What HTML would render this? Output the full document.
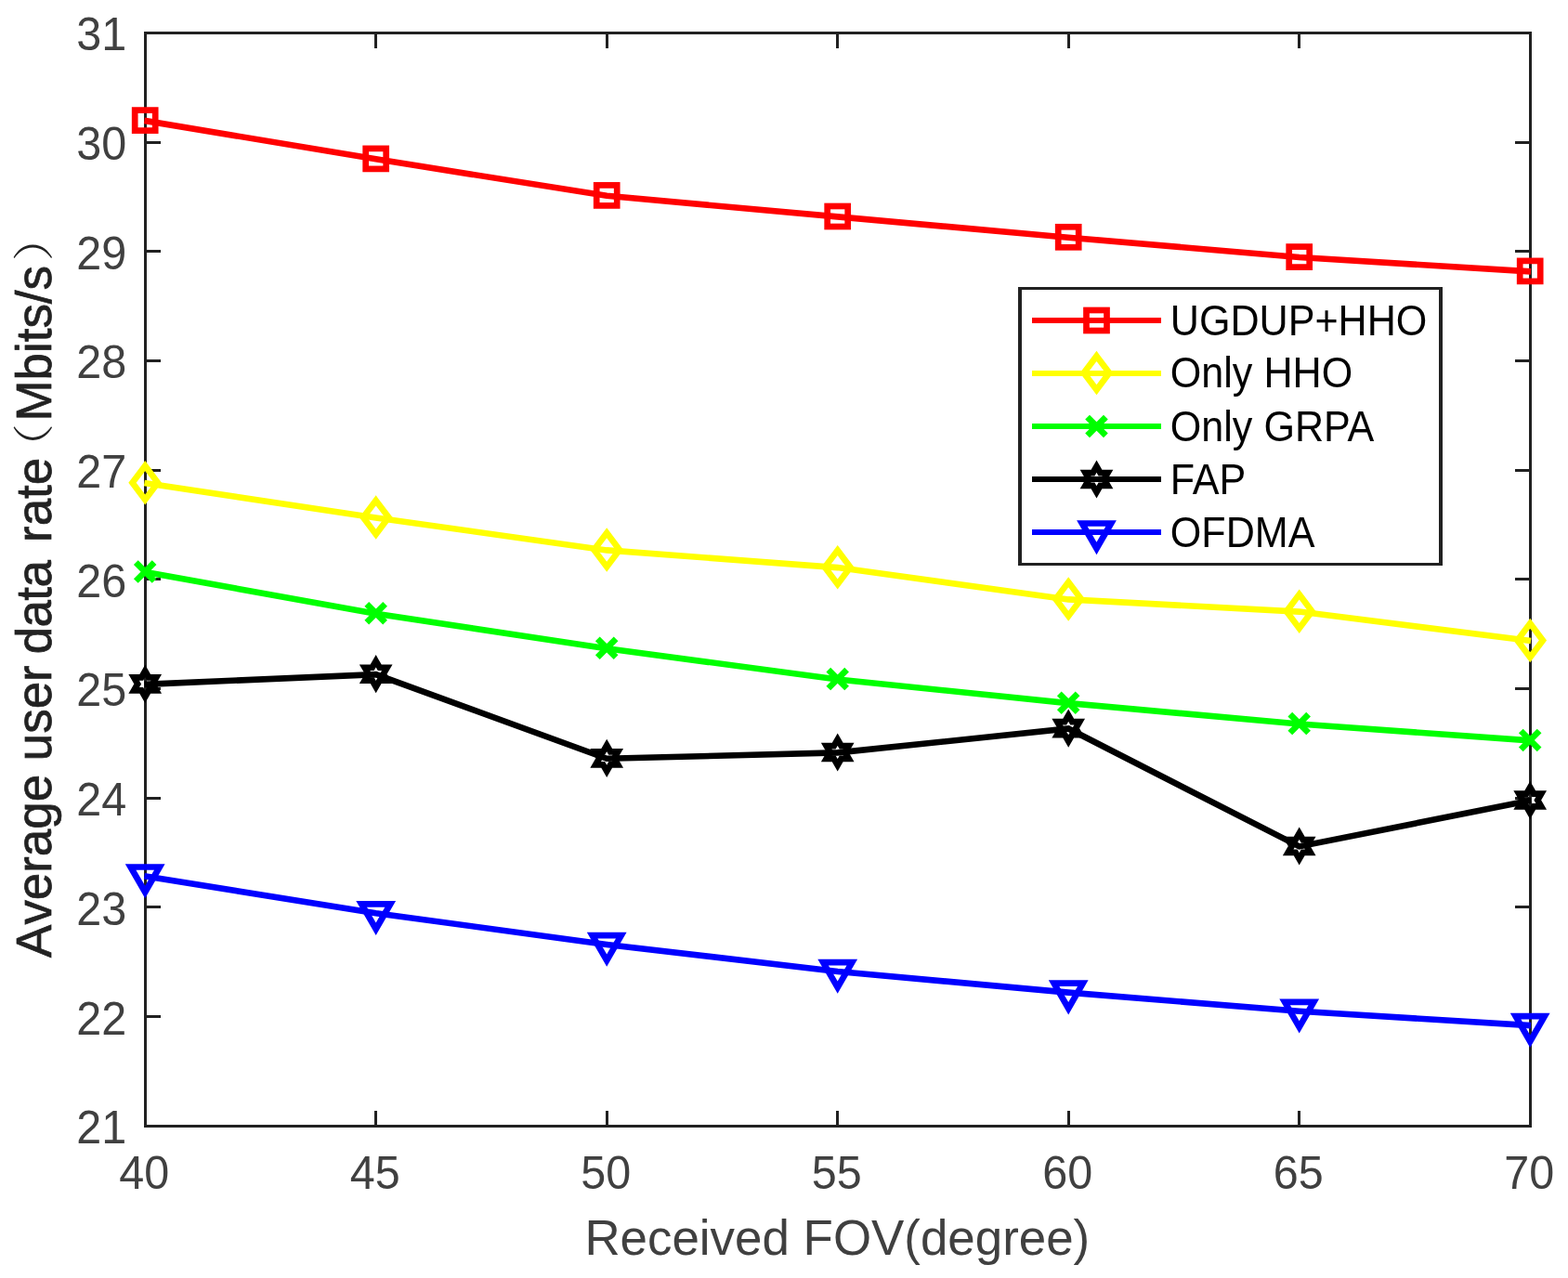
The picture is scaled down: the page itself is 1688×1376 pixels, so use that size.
<!DOCTYPE html>
<html lang="en"><head><meta charset="utf-8"><title>Average user data rate versus received FOV</title>
<style>
html,body{margin:0;padding:0;background:#fff;}
body{width:1688px;height:1376px;overflow:hidden;}
svg{display:block;}
text{font-family:"Liberation Sans","Noto Sans CJK SC",sans-serif;font-kerning:none;}
.tk{font-size:48.5px;fill:#404040;}
.lb{font-size:52.9px;fill:#404040;}
.yl{fill:#222;stroke:#222;stroke-width:0.7px;}
.pr{font-family:"Liberation Sans","Noto Serif CJK SC",serif;font-size:44.3px;font-weight:300;fill:#222;}
.lg{font-size:43.1px;fill:#000;font-kerning:normal;}
</style></head><body>
<svg width="1688" height="1376" viewBox="0 0 1688 1376">
<rect width="1688" height="1376" fill="#ffffff"/>
<g fill="none" stroke="#212121" stroke-width="3" shape-rendering="crispEdges"><rect x="156.5" y="35.5" width="1491" height="1177"/><path d="M404.5 1212.5v-16.5M404.5 35.5v16.5M653.5 1212.5v-16.5M653.5 35.5v16.5M901.5 1212.5v-16.5M901.5 35.5v16.5M1150.5 1212.5v-16.5M1150.5 35.5v16.5M1398.5 1212.5v-16.5M1398.5 35.5v16.5M156.5 1094.5h16.5M1647.5 1094.5h-16.5M156.5 976.5h16.5M1647.5 976.5h-16.5M156.5 859.5h16.5M1647.5 859.5h-16.5M156.5 741.5h16.5M1647.5 741.5h-16.5M156.5 623.5h16.5M1647.5 623.5h-16.5M156.5 506.5h16.5M1647.5 506.5h-16.5M156.5 388.5h16.5M1647.5 388.5h-16.5M156.5 270.5h16.5M1647.5 270.5h-16.5M156.5 153.5h16.5M1647.5 153.5h-16.5"/></g>
<g class="tk" text-anchor="end">
<text transform="translate(136.2,1231.2) scale(1,1.02)">21</text>
<text transform="translate(136.2,1113.52) scale(1,1.02)">22</text>
<text transform="translate(136.2,995.84) scale(1,1.02)">23</text>
<text transform="translate(136.2,878.16) scale(1,1.02)">24</text>
<text transform="translate(136.2,760.48) scale(1,1.02)">25</text>
<text transform="translate(136.2,642.8) scale(1,1.02)">26</text>
<text transform="translate(136.2,525.12) scale(1,1.02)">27</text>
<text transform="translate(136.2,407.44) scale(1,1.02)">28</text>
<text transform="translate(136.2,289.76) scale(1,1.02)">29</text>
<text transform="translate(136.2,172.08) scale(1,1.02)">30</text>
<text transform="translate(136.2,54.4) scale(1,1.02)">31</text>
</g>
<g class="tk" text-anchor="middle">
<text transform="translate(155.3,1280.3) scale(1,1.02)">40</text>
<text transform="translate(403.8,1280.3) scale(1,1.02)">45</text>
<text transform="translate(652.3,1280.3) scale(1,1.02)">50</text>
<text transform="translate(900.8,1280.3) scale(1,1.02)">55</text>
<text transform="translate(1149.3,1280.3) scale(1,1.02)">60</text>
<text transform="translate(1397.8,1280.3) scale(1,1.02)">65</text>
<text transform="translate(1646.3,1280.3) scale(1,1.02)">70</text>
</g>
<text class="lb" transform="translate(901.3,1351) scale(1,1.03)" text-anchor="middle">Received FOV(degree)</text>
<g transform="translate(54.9,1030.9) rotate(-90)"><text class="lb yl" transform="scale(1,1.03)"><tspan x="0">Average user </tspan><tspan x="326.6" letter-spacing="-0.6">data </tspan><tspan x="447">rate</tspan></text><text class="pr" transform="translate(523.5,-2.9) scale(1.16,1)">（</text><text class="lb yl" transform="translate(577.4,0) scale(1,1.03)">Mbits/s</text><text class="pr" transform="translate(749.7,-2.9) scale(1.16,1)">）</text></g>
<g><rect x="145.2" y="118.6" width="22" height="22" fill="none" stroke="#ff0000" stroke-width="6.7" stroke-miterlimit="10"/><rect x="393.7" y="159.9" width="22" height="22" fill="none" stroke="#ff0000" stroke-width="6.7" stroke-miterlimit="10"/><rect x="642.2" y="199.4" width="22" height="22" fill="none" stroke="#ff0000" stroke-width="6.7" stroke-miterlimit="10"/><rect x="890.7" y="222" width="22" height="22" fill="none" stroke="#ff0000" stroke-width="6.7" stroke-miterlimit="10"/><rect x="1139.2" y="244.3" width="22" height="22" fill="none" stroke="#ff0000" stroke-width="6.7" stroke-miterlimit="10"/><rect x="1387.7" y="265.6" width="22" height="22" fill="none" stroke="#ff0000" stroke-width="6.7" stroke-miterlimit="10"/><rect x="1636.2" y="280.9" width="22" height="22" fill="none" stroke="#ff0000" stroke-width="6.7" stroke-miterlimit="10"/><polyline transform="translate(0,0.4)" points="155.4,129.47 404.7,170.9 653.2,210.4 901.7,233 1150.2,255.3 1398.7,276.6 1648,291.95" fill="none" stroke="#ff0000" stroke-width="6.6" stroke-linejoin="miter"/></g>
<g><path d="M156.2 501.6L169.9 519.8L156.2 538L142.5 519.8Z" fill="none" stroke="#ffff00" stroke-width="6.7" stroke-miterlimit="10"/><path d="M404.7 538.9L418.4 557.1L404.7 575.3L391 557.1Z" fill="none" stroke="#ffff00" stroke-width="6.7" stroke-miterlimit="10"/><path d="M653.2 573.8L666.9 592L653.2 610.2L639.5 592Z" fill="none" stroke="#ffff00" stroke-width="6.7" stroke-miterlimit="10"/><path d="M901.7 592.5L915.4 610.7L901.7 628.9L888 610.7Z" fill="none" stroke="#ffff00" stroke-width="6.7" stroke-miterlimit="10"/><path d="M1150.2 626.8L1163.9 645L1150.2 663.2L1136.5 645Z" fill="none" stroke="#ffff00" stroke-width="6.7" stroke-miterlimit="10"/><path d="M1398.7 640L1412.4 658.2L1398.7 676.4L1385 658.2Z" fill="none" stroke="#ffff00" stroke-width="6.7" stroke-miterlimit="10"/><path d="M1647.2 671.3L1660.9 689.5L1647.2 707.7L1633.5 689.5Z" fill="none" stroke="#ffff00" stroke-width="6.7" stroke-miterlimit="10"/><polyline transform="translate(0,0.4)" points="155.4,519.68 404.7,557.1 653.2,592 901.7,610.7 1150.2,645 1398.7,658.2 1648,689.6" fill="none" stroke="#ffff00" stroke-width="6.6" stroke-linejoin="miter"/></g>
<g><path d="M146.3 605.7L166.1 625.5M146.3 625.5L166.1 605.7" fill="none" stroke="#00ff00" stroke-width="6.7" stroke-miterlimit="10"/><path d="M394.8 650.4L414.6 670.2M394.8 670.2L414.6 650.4" fill="none" stroke="#00ff00" stroke-width="6.7" stroke-miterlimit="10"/><path d="M643.3 687.9L663.1 707.7M643.3 707.7L663.1 687.9" fill="none" stroke="#00ff00" stroke-width="6.7" stroke-miterlimit="10"/><path d="M891.8 721.2L911.6 741M891.8 741L911.6 721.2" fill="none" stroke="#00ff00" stroke-width="6.7" stroke-miterlimit="10"/><path d="M1140.3 746.8L1160.1 766.6M1140.3 766.6L1160.1 746.8" fill="none" stroke="#00ff00" stroke-width="6.7" stroke-miterlimit="10"/><path d="M1388.8 769.2L1408.6 789M1388.8 789L1408.6 769.2" fill="none" stroke="#00ff00" stroke-width="6.7" stroke-miterlimit="10"/><path d="M1637.3 787L1657.1 806.8M1637.3 806.8L1657.1 787" fill="none" stroke="#00ff00" stroke-width="6.7" stroke-miterlimit="10"/><polyline transform="translate(0,0.4)" points="155.4,615.46 404.7,660.3 653.2,697.8 901.7,731.1 1150.2,756.7 1398.7,779.1 1648,796.96" fill="none" stroke="#00ff00" stroke-width="6.6" stroke-linejoin="miter"/></g>
<g><path d="M156.2 722.5L160.21 729.45L168.24 729.45L164.23 736.4L168.24 743.35L160.21 743.35L156.2 750.3L152.19 743.35L144.16 743.35L148.17 736.4L144.16 729.45L152.19 729.45Z" fill="none" stroke="#000000" stroke-width="6.7" stroke-miterlimit="10"/><path d="M404.7 711.8L408.71 718.75L416.74 718.75L412.73 725.7L416.74 732.65L408.71 732.65L404.7 739.6L400.69 732.65L392.66 732.65L396.67 725.7L392.66 718.75L400.69 718.75Z" fill="none" stroke="#000000" stroke-width="6.7" stroke-miterlimit="10"/><path d="M653.2 802.5L657.21 809.45L665.24 809.45L661.23 816.4L665.24 823.35L657.21 823.35L653.2 830.3L649.19 823.35L641.16 823.35L645.17 816.4L641.16 809.45L649.19 809.45Z" fill="none" stroke="#000000" stroke-width="6.7" stroke-miterlimit="10"/><path d="M901.7 796.1L905.71 803.05L913.74 803.05L909.73 810L913.74 816.95L905.71 816.95L901.7 823.9L897.69 816.95L889.66 816.95L893.67 810L889.66 803.05L897.69 803.05Z" fill="none" stroke="#000000" stroke-width="6.7" stroke-miterlimit="10"/><path d="M1150.2 770.2L1154.21 777.15L1162.24 777.15L1158.23 784.1L1162.24 791.05L1154.21 791.05L1150.2 798L1146.19 791.05L1138.16 791.05L1142.17 784.1L1138.16 777.15L1146.19 777.15Z" fill="none" stroke="#000000" stroke-width="6.7" stroke-miterlimit="10"/><path d="M1398.7 897.1L1402.71 904.05L1410.74 904.05L1406.73 911L1410.74 917.95L1402.71 917.95L1398.7 924.9L1394.69 917.95L1386.66 917.95L1390.67 911L1386.66 904.05L1394.69 904.05Z" fill="none" stroke="#000000" stroke-width="6.7" stroke-miterlimit="10"/><path d="M1647.2 847.6L1651.21 854.55L1659.24 854.55L1655.23 861.5L1659.24 868.45L1651.21 868.45L1647.2 875.4L1643.19 868.45L1635.16 868.45L1639.17 861.5L1635.16 854.55L1643.19 854.55Z" fill="none" stroke="#000000" stroke-width="6.7" stroke-miterlimit="10"/><polyline transform="translate(0,0.4)" points="155.4,736.43 404.7,725.7 653.2,816.4 901.7,810 1150.2,784.1 1398.7,911 1648,861.34" fill="none" stroke="#000000" stroke-width="6.6" stroke-linejoin="miter"/></g>
<g><path d="M156.2 960.5L140.61 933.5L171.79 933.5Z" fill="none" stroke="#0000ff" stroke-width="6.7" stroke-miterlimit="10"/><path d="M404.7 1000.3L389.11 973.3L420.29 973.3Z" fill="none" stroke="#0000ff" stroke-width="6.7" stroke-miterlimit="10"/><path d="M653.2 1034.1L637.61 1007.1L668.79 1007.1Z" fill="none" stroke="#0000ff" stroke-width="6.7" stroke-miterlimit="10"/><path d="M901.7 1063.1L886.11 1036.1L917.29 1036.1Z" fill="none" stroke="#0000ff" stroke-width="6.7" stroke-miterlimit="10"/><path d="M1150.2 1085.7L1134.61 1058.7L1165.79 1058.7Z" fill="none" stroke="#0000ff" stroke-width="6.7" stroke-miterlimit="10"/><path d="M1398.7 1105.9L1383.11 1078.9L1414.29 1078.9Z" fill="none" stroke="#0000ff" stroke-width="6.7" stroke-miterlimit="10"/><path d="M1647.2 1121.2L1631.61 1094.2L1662.79 1094.2Z" fill="none" stroke="#0000ff" stroke-width="6.7" stroke-miterlimit="10"/><polyline transform="translate(0,0.4)" points="155.4,942.87 404.7,982.8 653.2,1016.6 901.7,1045.6 1150.2,1068.2 1398.7,1088.4 1648,1103.75" fill="none" stroke="#0000ff" stroke-width="6.6" stroke-linejoin="miter"/></g>
<path d="M1096 309H1553V609H1096ZM1100 312V606H1549V312Z" fill="#212121" fill-rule="evenodd" shape-rendering="crispEdges"/>
<rect x="1100" y="312" width="449" height="294" fill="#fff"/>
<g><rect x="1169.5" y="334" width="22" height="22" fill="none" stroke="#ff0000" stroke-width="6.7" stroke-miterlimit="10"/><path d="M1111 345H1250" stroke="#ff0000" stroke-width="6.2" fill="none" shape-rendering="crispEdges"/><text class="lg" transform="translate(1259.8,360.6) scale(1,1.06)">UGDUP+HHO</text></g>
<g><path d="M1180.5 383.4L1194.2 401.6L1180.5 419.8L1166.8 401.6Z" fill="none" stroke="#ffff00" stroke-width="6.7" stroke-miterlimit="10"/><path d="M1111 401.6H1250" stroke="#ffff00" stroke-width="6.2" fill="none" shape-rendering="crispEdges"/><text class="lg" transform="translate(1259.8,417.2) scale(1,1.06)">Only HHO</text></g>
<g><path d="M1170.6 449.1L1190.4 468.9M1170.6 468.9L1190.4 449.1" fill="none" stroke="#00ff00" stroke-width="6.7" stroke-miterlimit="10"/><path d="M1111 459H1250" stroke="#00ff00" stroke-width="6.2" fill="none" shape-rendering="crispEdges"/><text class="lg" transform="translate(1259.8,474.6) scale(1,1.06)">Only GRPA</text></g>
<g><path d="M1180.5 502.1L1184.51 509.05L1192.54 509.05L1188.53 516L1192.54 522.95L1184.51 522.95L1180.5 529.9L1176.49 522.95L1168.46 522.95L1172.47 516L1168.46 509.05L1176.49 509.05Z" fill="none" stroke="#000000" stroke-width="6.7" stroke-miterlimit="10"/><path d="M1111 516H1250" stroke="#000000" stroke-width="6.2" fill="none" shape-rendering="crispEdges"/><text class="lg" transform="translate(1259.8,531.6) scale(1,1.06)">FAP</text></g>
<g><path d="M1180.5 590.5L1164.91 563.5L1196.09 563.5Z" fill="none" stroke="#0000ff" stroke-width="6.7" stroke-miterlimit="10"/><path d="M1111 573H1250" stroke="#0000ff" stroke-width="6.2" fill="none" shape-rendering="crispEdges"/><text class="lg" transform="translate(1259.8,588.6) scale(1,1.06)">OFDMA</text></g>
</svg></body></html>
